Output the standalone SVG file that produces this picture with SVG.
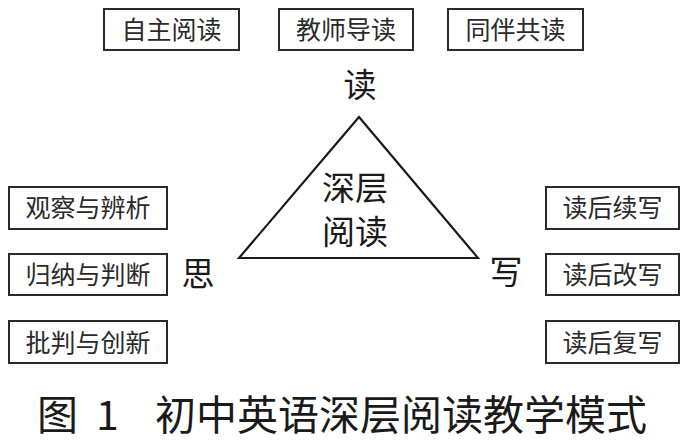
<svg xmlns="http://www.w3.org/2000/svg" width="685" height="441" viewBox="0 0 685 441">
<style>
.box{fill:#fff;stroke:#2a2a2a;stroke-width:2}
.bt{font-family:"Noto Sans CJK SC","Noto Sans CJK JP",sans-serif;font-size:25px;fill:#2a2a2a;text-anchor:middle}
.big{font-family:"Noto Sans CJK SC","Noto Sans CJK JP",sans-serif;font-size:33px;fill:#1a1a1a;text-anchor:middle}
.cap{font-family:"Noto Sans CJK SC","Noto Sans CJK JP",sans-serif;font-size:41px;fill:#1a1a1a}
</style>
<rect width="685" height="441" fill="#fff"/>
<g id="read-boxes">
<g id="b-zizhu"><rect class="box" x="104" y="9" width="135" height="41"/><text class="bt" x="171.5" y="38.5">自主阅读</text></g>
<g id="b-jiaoshi"><rect class="box" x="279" y="9" width="134" height="41"/><text class="bt" x="346" y="38.5">教师导读</text></g>
<g id="b-tongban"><rect class="box" x="448" y="9" width="135" height="41"/><text class="bt" x="515.5" y="38.5">同伴共读</text></g>
</g>
<g id="think-boxes">
<g id="b-guancha"><rect class="box" x="9" y="187" width="158" height="42"/><text class="bt" x="88" y="217">观察与辨析</text></g>
<g id="b-guina"><rect class="box" x="9" y="254" width="158" height="41"/><text class="bt" x="88" y="284">归纳与判断</text></g>
<g id="b-pipan"><rect class="box" x="9" y="321" width="158" height="42"/><text class="bt" x="88" y="351.5">批判与创新</text></g>
</g>
<g id="write-boxes">
<g id="b-xuxie"><rect class="box" x="546" y="187" width="133" height="42"/><text class="bt" x="612.5" y="217">读后续写</text></g>
<g id="b-gaixie"><rect class="box" x="546" y="254" width="133" height="41"/><text class="bt" x="612.5" y="284">读后改写</text></g>
<g id="b-fuxie"><rect class="box" x="546" y="321" width="133" height="42"/><text class="bt" x="612.5" y="351.5">读后复写</text></g>
</g>
<g id="triangle">
<polygon points="359,117 239,258 478,258" fill="none" stroke="#1a1a1a" stroke-width="2.2" stroke-linejoin="miter"/>
<text class="big" x="355" y="200">深层</text>
<text class="big" x="355" y="244">阅读</text>
</g>
<g id="vertex-labels">
<text class="big" x="360" y="97">读</text>
<text class="big" x="198" y="286">思</text>
<text class="big" x="506" y="284">写</text>
</g>
<g id="caption">
<text class="cap" x="37" y="430">图</text>
<text class="cap" x="96" y="430">1</text>
<text class="cap" x="155" y="430">初中英语深层阅读教学模式</text>
</g>
</svg>
